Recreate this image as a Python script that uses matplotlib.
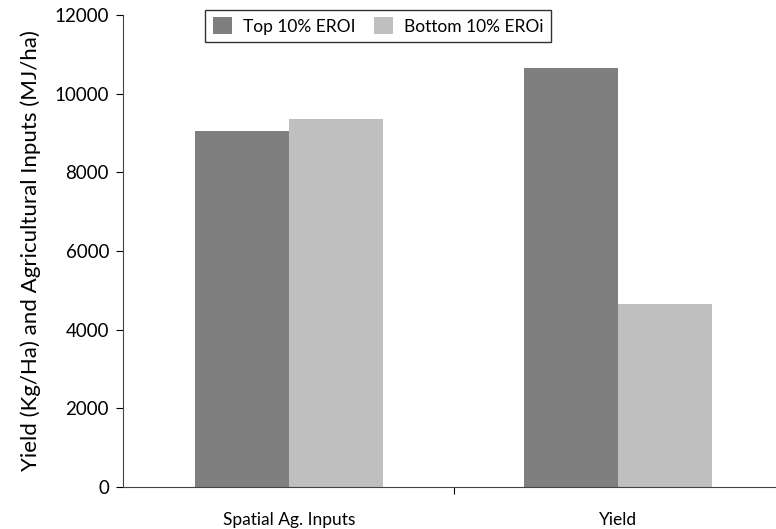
import matplotlib.pyplot as plt
import numpy as np

plt.rcParams['font.family'] = ['Lato', 'DejaVu Sans']

categories = ['Spatial Ag. Inputs', 'Yield']
top_eroi = [9050, 10650]
bottom_eroi = [9350, 4660]

fig = plt.figure(figsize=(7.76, 5.29), dpi=100)
ax = fig.add_axes([0.1585, 0.0794, 0.85, 0.8922])

x = np.arange(len(categories))
w = 0.286
ax.bar(x - w / 2, top_eroi, w, color='#7f7f7f', label='Top 10% EROI')
ax.bar(x + w / 2, bottom_eroi, w, color='#bfbfbf', label='Bottom 10% EROi')

ax.set_xlim(-0.505, 1.5)
ax.set_ylim(0, 12000)
ax.set_yticks(range(0, 12001, 2000))
ax.set_xticks([0.5])
ax.set_xticklabels([''])
ax.set_xticks(x, minor=True)
ax.set_xticklabels(categories, minor=True)
ax.tick_params(axis='x', which='minor', length=0, pad=18, labelsize=12.5)
ax.tick_params(axis='x', which='major', length=5, direction='out')
ax.tick_params(axis='y', length=5, direction='out', labelsize=13.5, pad=5)

for s in ['top', 'right']:
    ax.spines[s].set_visible(False)
for s in ['left', 'bottom']:
    ax.spines[s].set_color('#444444')

ax.set_ylabel('Yield (Kg/Ha) and Agricultural Inputs (MJ/ha)', fontsize=16, labelpad=10)

leg = ax.legend(loc='upper center', bbox_to_anchor=(0.387, 1.03), ncol=2, frameon=True,
                fancybox=False, edgecolor='black', fontsize=12.5, handlelength=1.1,
                handleheight=1.1, columnspacing=1.1, borderpad=0.45, handletextpad=0.6)
leg.get_frame().set_linewidth(1.0)

fig.savefig('out.png', dpi=100)
